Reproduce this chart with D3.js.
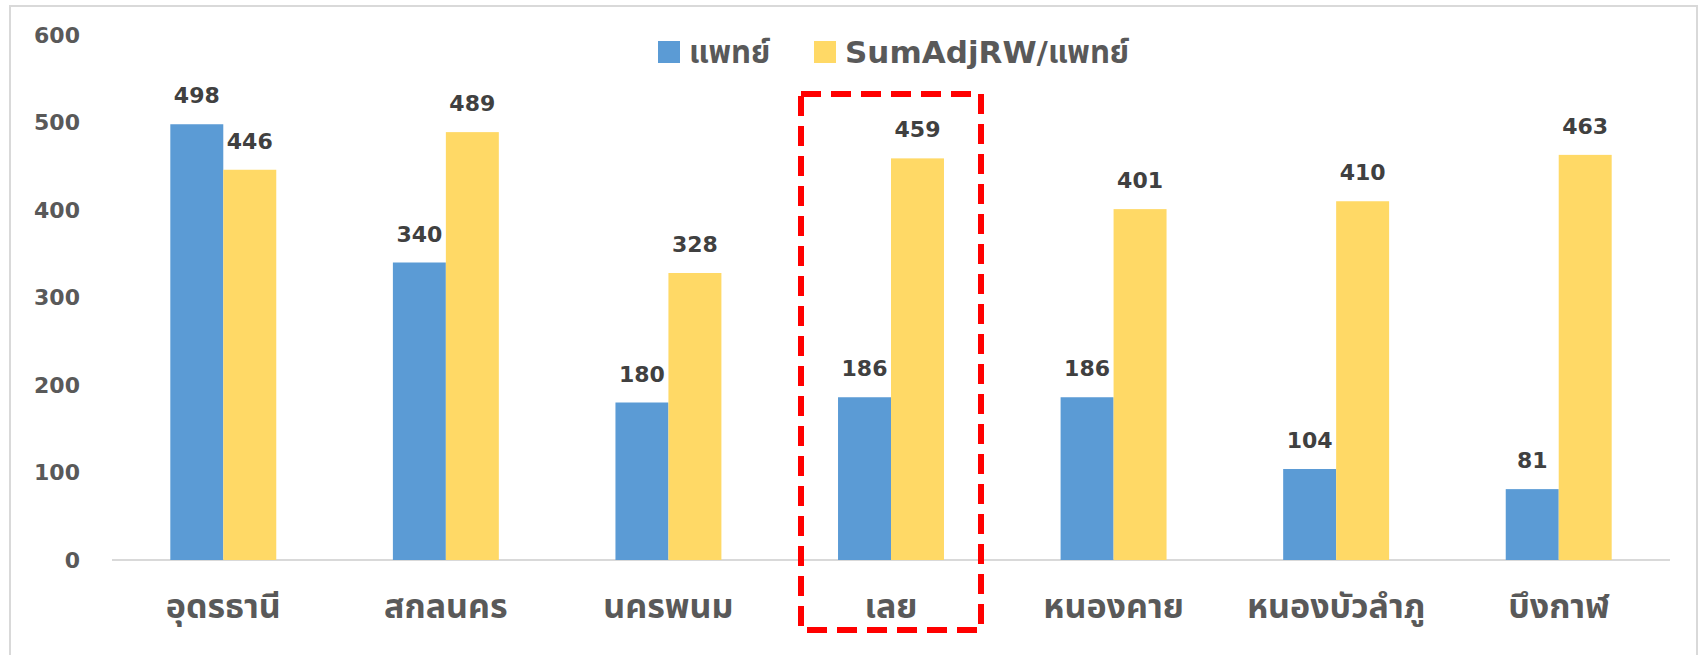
<!DOCTYPE html>
<html>
<head>
<meta charset="utf-8">
<script src="https://cdnjs.cloudflare.com/ajax/libs/d3/7.8.5/d3.min.js"></script>
<style>
  body { margin: 0; background: #fff; }
  svg text { font-family: "DejaVu Sans", "Noto Sans Thai", "Noto Sans", sans-serif; font-weight: 700; }
</style>
</head>
<body>
<div id="chart"></div>
<script>
var provinces = ["อุดรธานี", "สกลนคร", "นครพนม", "เลย", "หนองคาย", "หนองบัวลำภู", "บึงกาฬ"];
var doctors = [498, 340, 180, 186, 186, 104, 81];
var sumAdjPerDoctor = [446, 489, 328, 459, 401, 410, 463];
var seriesNames = ["แพทย์", "SumAdjRW/แพทย์"];
var yTicks = [0, 100, 200, 300, 400, 500, 600];
var highlighted = "เลย";

var width = 1706,
    height = 655;

var colors = ["#5B9BD5", "#FFD966"];

var svg = d3.select("#chart")
  .append("svg")
  .attr("width", width)
  .attr("height", height);

// outer chart frame
svg.append("rect")
  .attr("x", 10).attr("y", 6)
  .attr("width", 1687).attr("height", 700)
  .attr("fill", "none")
  .attr("stroke", "#d9d9d9")
  .attr("stroke-width", 2);

var x = d3.scaleBand()
  .domain(provinces)
  .range([112, 1670])
  .paddingInner(0.524)
  .paddingOuter(0.262);

var xSub = d3.scaleBand()
  .domain([0, 1])
  .range([0, x.bandwidth()]);

var y = d3.scaleLinear()
  .domain([0, 600])
  .range([560, 35]);

var data = provinces.map(function(p, i) {
  return { name: p, values: [doctors[i], sumAdjPerDoctor[i]] };
});

// y axis labels (no line, no ticks)
var yAxis = svg.append("g")
  .attr("transform", "translate(80,0)")
  .call(d3.axisLeft(y).tickValues(yTicks).tickSize(0).tickPadding(0));
yAxis.select(".domain").remove();
yAxis.selectAll("text")
  .attr("fill", "#595959")
  .style("font-size", "22px");

// baseline
svg.append("line")
  .attr("x1", 112).attr("x2", 1670)
  .attr("y1", y(0)).attr("y2", y(0))
  .attr("stroke", "#d9d9d9")
  .attr("stroke-width", 2);

var groups = svg.selectAll(".grp")
  .data(data)
  .enter()
  .append("g")
  .attr("class", "grp")
  .attr("transform", function(d) { return "translate(" + x(d.name) + ",0)"; });

groups.selectAll("rect")
  .data(function(d) { return d.values; })
  .enter()
  .append("rect")
  .attr("x", function(d, i) { return xSub(i); })
  .attr("width", xSub.bandwidth())
  .attr("y", function(d) { return y(d); })
  .attr("height", function(d) { return y(0) - y(d); })
  .attr("fill", function(d, i) { return colors[i]; });

groups.selectAll(".lbl")
  .data(function(d) { return d.values; })
  .enter()
  .append("text")
  .attr("class", "lbl")
  .attr("x", function(d, i) { return xSub(i) + xSub.bandwidth() / 2; })
  .attr("y", function(d) { return y(d) - 21; })
  .attr("text-anchor", "middle")
  .attr("fill", "#404040")
  .style("font-size", "22px")
  .text(function(d) { return d; });

// category labels
var xAxis = svg.append("g")
  .attr("transform", "translate(0," + y(0) + ")")
  .call(d3.axisBottom(x).tickSize(0).tickPadding(0));
xAxis.select(".domain").remove();
xAxis.selectAll("text")
  .attr("dy", 0)
  .attr("y", 58)
  .attr("fill", "#595959")
  .style("font-size", "34px");

// legend
var legend = svg.append("g");
var legendX = [658, 814];
seriesNames.forEach(function(name, i) {
  legend.append("rect")
    .attr("x", legendX[i]).attr("y", 41)
    .attr("width", 22).attr("height", 22)
    .attr("fill", colors[i]);
  legend.append("text")
    .attr("x", legendX[i] + 31).attr("y", 63)
    .attr("fill", "#595959")
    .style("font-size", "31px")
    .text(name);
});

// red dashed highlight box
var hx = x(highlighted) + x.bandwidth() / 2;
svg.append("rect")
  .attr("x", hx - 90).attr("y", 94)
  .attr("width", 180).attr("height", 536)
  .attr("fill", "none")
  .attr("stroke", "#ff0000")
  .attr("stroke-width", 6)
  .attr("stroke-dasharray", "20,10");
</script>
</body>
</html>
